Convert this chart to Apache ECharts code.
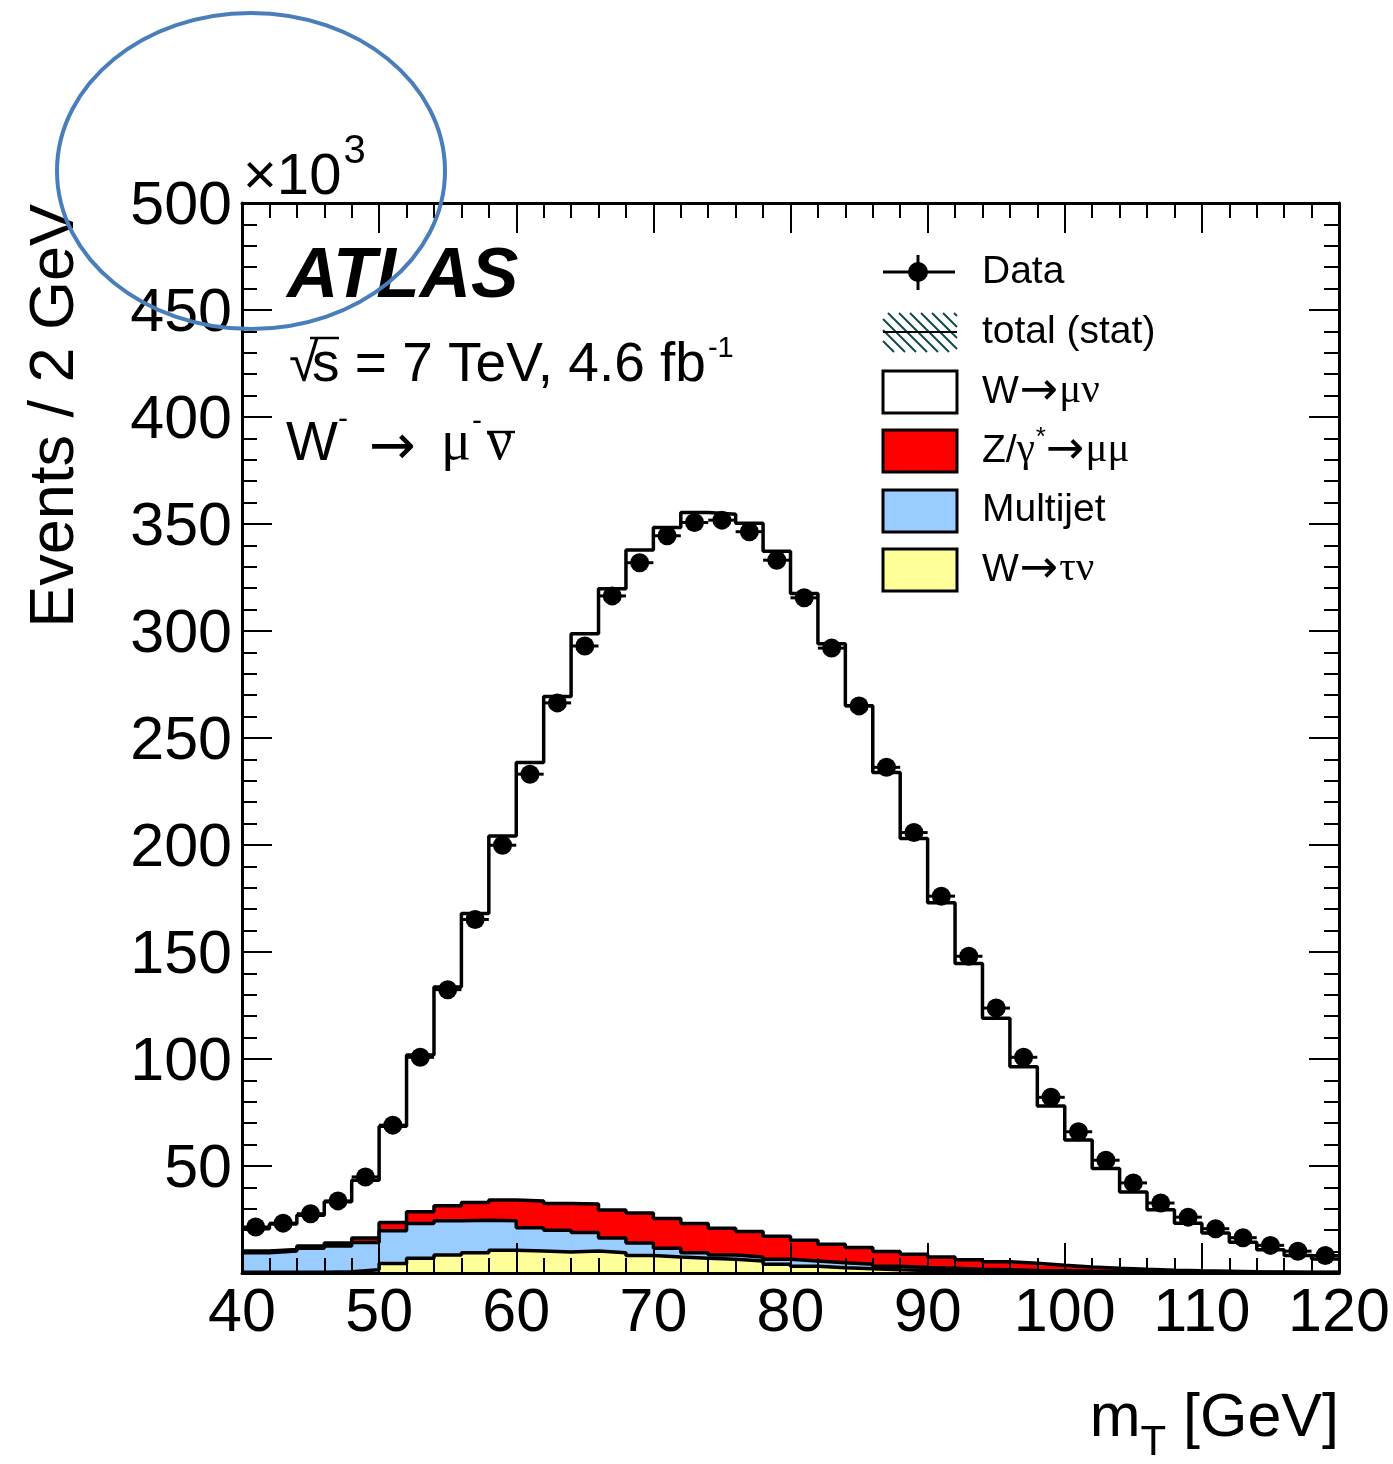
<!DOCTYPE html>
<html>
<head>
<meta charset="utf-8">
<title>W- transverse mass</title>
<script src="https://cdn.jsdelivr.net/npm/echarts@6.0.0/dist/echarts.min.js"></script>
<style>
html, body { margin: 0; padding: 0; background: #fff; }
#chart { width: 1393px; height: 1464px; }
</style>
</head>
<body>
<div id="chart"></div>
<script>
// ---- binning (GeV) ----
const binLowEdges = [40,42,44,46,48,50,52,54,56,58,60,62,64,66,68,70,72,74,76,78,
                     80,82,84,86,88,90,92,94,96,98,100,102,104,106,108,110,112,114,116,118];
const binWidth = 2;
const xMin = 40, xMax = 120, xTickStep = 10;
const yMin = 0, yMax = 500, yTickStep = 50;

// ---- events per 2 GeV bin, in units of 10^3 ----
const dataEvents = [21.5,23.3,27.7,33.7,44.9,69.1,100.8,132.4,165.2,199.9,
                    233.1,266.4,293.0,316.4,331.9,344.5,350.7,351.8,346.4,333.1,
                    315.5,292.0,265.0,236.3,205.8,176.1,148.0,123.8,100.8,82.1,
                    66.0,52.7,42.1,32.7,26.1,20.7,16.5,12.9,10.2,8.2];
const wMuNu      = [10.4,11.9,14.4,19.3,27.0,45.0,73.3,102.2,135.1,170.1,
                    204.9,236.9,266.5,290.4,309.8,322.9,332.3,333.6,330.9,320.1,
                    302.2,280.6,253.2,223.9,194.2,165.5,138.4,113.9,91.9,74.4,
                    59.3,46.6,36.2,28.3,22.3,17.9,13.8,10.4,7.8,6.3];
const zGammaMuMu = [0.8,0.7,1.0,1.4,2.1,3.9,5.5,7.0,8.3,9.7,
                    12.5,12.5,13.3,13.1,14.0,13.9,13.6,12.5,11.9,10.8,
                    9.7,8.6,7.8,6.9,6.2,5.3,4.4,3.7,3.3,2.6,
                    2.0,1.5,1.1,0.8,0.6,0.5,0.3,0.3,0.2,0.1];
const multijet   = [9.2,10.0,11.2,12.0,12.7,15.3,16.2,16.0,15.1,13.8,
                    10.9,10.2,8.6,6.8,5.8,4.1,2.6,2.0,1.9,2.3,
                    2.5,2.3,2.1,1.6,1.4,1.2,1.0,0.9,0.7,0.6,
                    0.5,0.4,0.4,0.3,0.2,0.2,0.2,0.1,0.1,0.1];
const wTauNu     = [0.3,0.3,0.4,0.6,1.5,4.4,6.9,8.4,9.5,10.6,
                    10.3,9.8,10.3,9.5,8.2,7.5,6.9,6.4,5.6,4.1,
                    3.1,2.5,2.0,1.5,1.2,1.0,0.8,0.6,0.5,0.4,
                    0.3,0.3,0.2,0.2,0.2,0.1,0.1,0.1,0.1,0.1];

// ---- colours & fonts ----
const COL_WMU = '#ffffff', COL_Z = '#ff0000', COL_MJ = '#99ccff', COL_WTAU = '#ffff99';
const HATCH = '#134848';
const SANS = '"Liberation Sans", Arial, Helvetica, sans-serif';
const SERIF = '"Liberation Serif", "Times New Roman", serif';
const SYM = '"DejaVu Sans", sans-serif';

// ---- stacked histogram (bottom to top) ----
const stackParts = [
  { values: wTauNu,     color: COL_WTAU },
  { values: multijet,   color: COL_MJ },
  { values: zGammaMuMu, color: COL_Z },
  { values: wMuNu,      color: COL_WMU }
];
const cumulative = [];
stackParts.forEach((part, k) => {
  cumulative.push(part.values.map((v, i) => v + (k ? cumulative[k - 1][i] : 0)));
});

const series = [];
let zOrder = 1;
for (let k = stackParts.length - 1; k >= 0; k--) {
  const color = stackParts[k].color;
  const tops = cumulative[k];
  // filled bins
  series.push({
    type: 'custom',
    z: zOrder++,
    silent: true,
    clip: true,
    data: binLowEdges.map((x, i) => [x, tops[i]]),
    renderItem: function (params, api) {
      const x0 = api.value(0), top = api.value(1);
      const p0 = api.coord([x0, 0]);
      const p1 = api.coord([x0 + binWidth, top]);
      return {
        type: 'rect',
        shape: { x: p0[0], y: p1[1], width: p1[0] - p0[0] + 0.7, height: p0[1] - p1[1] },
        style: { fill: color }
      };
    }
  });
  // black step outline
  series.push({
    type: 'line',
    z: zOrder++,
    silent: true,
    step: 'end',
    symbol: 'none',
    lineStyle: { color: '#000', width: 3.5 },
    data: binLowEdges.map((x, i) => [x, tops[i]]).concat([[xMax, tops[tops.length - 1]]])
  });
}

// data points with horizontal bin-width bars
series.push({
  type: 'custom',
  z: 40,
  silent: true,
  data: binLowEdges.map((x, i) => [x + binWidth / 2, dataEvents[i]]),
  renderItem: function (params, api) {
    const x = api.value(0), y = api.value(1);
    const c = api.coord([x, y]);
    const l = api.coord([x - binWidth / 2, y]);
    const r = api.coord([x + binWidth / 2, y]);
    return {
      type: 'group',
      children: [
        { type: 'line', shape: { x1: l[0], y1: c[1], x2: r[0], y2: c[1] }, style: { stroke: '#000', lineWidth: 3 } },
        { type: 'circle', shape: { cx: c[0], cy: c[1], r: 9.5 }, style: { fill: '#000' } }
      ]
    };
  }
});

// ---- text helpers ----
const measureCtx = document.createElement('canvas').getContext('2d');
function textWidth(str, font) { measureCtx.font = font; return measureCtx.measureText(str).width; }
function fontStr(size, family, extra) { return (extra ? extra + ' ' : '') + size + 'px ' + family; }
// place text by its baseline
function textAt(x, baseline, text, size, family, extra, align) {
  return {
    type: 'text', z: 100, silent: true,
    x: x, y: baseline - 0.35 * size,
    style: { text: text, font: fontStr(size, family, extra), fill: '#000',
             align: align || 'left', verticalAlign: 'middle',
             textAlign: align || 'left', textVerticalAlign: 'middle' }
  };
}
// place text by its vertical centre
function textMid(x, yMid, text, size, family, extra) {
  return {
    type: 'text', z: 100, silent: true, x: x, y: yMid,
    style: { text: text, font: fontStr(size, family, extra), fill: '#000',
             align: 'left', verticalAlign: 'middle', textAlign: 'left', textVerticalAlign: 'middle' }
  };
}
function hline(x1, x2, y, w, color) {
  return { type: 'line', z: 100, silent: true, shape: { x1: x1, y1: y, x2: x2, y2: y }, style: { stroke: color || '#000', lineWidth: w } };
}
function vline(x, y1, y2, w) {
  return { type: 'line', z: 100, silent: true, shape: { x1: x, y1: y1, x2: x, y2: y2 }, style: { stroke: '#000', lineWidth: w } };
}

const g = [];

// axis multiplier
(function () {
  const f = fontStr(58, SANS);
  g.push(textAt(243, 198, '\u00d710', 58, SANS));
  g.push(textAt(243 + textWidth('\u00d710', f) + 2, 166, '3', 40, SANS));
})();

// axis titles
g.push({
  type: 'text', z: 100, silent: true, x: 56, y: 204, rotation: Math.PI / 2,
  style: { text: 'Events / 2 GeV', font: fontStr(63, SANS), fill: '#000',
           align: 'right', verticalAlign: 'middle', textAlign: 'right', textVerticalAlign: 'middle' }
});
(function () {
  const fMain = fontStr(61, SANS), fSub = fontStr(42, SANS);
  const wm = textWidth('m', fMain), wt = textWidth('T', fSub), wg = textWidth(' [GeV]', fMain);
  const x0 = 1339 - (wm + wt + wg);
  g.push(textAt(x0, 1441, 'm', 61, SANS));
  g.push(textAt(x0 + wm, 1458, 'T', 42, SANS));
  g.push(textAt(x0 + wm + wt, 1441, ' [GeV]', 61, SANS));
})();

// experiment label
g.push(textAt(287, 302, 'ATLAS', 71, SANS, 'italic bold'));
(function () {
  g.push(textAt(289, 385, '\u221a', 54, SANS));
  g.push(textAt(312, 385, 's', 55, SANS));
  g.push(hline(310, 339, 338, 2.5));
  const rest = ' = 7 TeV, 4.6 fb';
  const x1 = 312 + textWidth('s', fontStr(55, SANS));
  g.push(textAt(x1, 385, rest, 55, SANS));
  g.push(textAt(x1 + textWidth(rest, fontStr(55, SANS)) + 2, 359, '-1', 29, SANS));
})();
(function () {
  g.push(textAt(286, 464, 'W', 55, SANS));
  g.push(textAt(338, 430, '-', 30, SANS));
  g.push(textMid(369, 449, '\u2192', 56, SYM));
  g.push(textAt(441, 464, '\u03bc', 56, SERIF));
  g.push(textAt(472, 432, '-', 30, SANS));
  g.push(textAt(487, 464, '\u03bd', 56, SERIF));
  g.push(hline(487, 515, 432, 2.5));
})();

// ---- legend ----
const LX0 = 883, LX1 = 957, LTX = 982, LFS = 39;
// Data
g.push(hline(LX0, LX1 - 2, 272, 3));
g.push(vline(918, 255, 290, 3));
g.push({ type: 'circle', z: 101, silent: true, shape: { cx: 918, cy: 272, r: 10 }, style: { fill: '#000' } });
g.push(textAt(LTX, 286, 'Data', LFS, SANS));
// total (stat): hatched box with central line
(function () {
  const y0 = 313, y1 = 352, h = y1 - y0;
  for (let c = -h; c < LX1 - LX0; c += 11) {
    let sx = LX0 + c, sy = y0, ex = LX0 + c + h, ey = y1;
    if (sx < LX0) { sy += LX0 - sx; sx = LX0; }
    if (ex > LX1) { ey -= ex - LX1; ex = LX1; }
    if (ex - sx < 1) continue;
    g.push({ type: 'line', z: 100, silent: true, shape: { x1: sx, y1: sy, x2: ex, y2: ey }, style: { stroke: HATCH, lineWidth: 2 } });
  }
  g.push(hline(LX0, LX1, 332, 2));
})();
g.push(textAt(LTX, 346, 'total (stat)', LFS, SANS));

function legendBox(yTop, color) {
  g.push({ type: 'rect', z: 100, silent: true, shape: { x: LX0, y: yTop, width: LX1 - LX0, height: 42 },
           style: { fill: color, stroke: '#000', lineWidth: 3 } });
}
function processLabel(yMid, pieces) {
  let x = LTX;
  const baseline = yMid + 0.36 * LFS;
  pieces.forEach(p => {
    if (p.arrow) {
      g.push(textMid(x, yMid, '\u2192', 46, SYM));
      x += textWidth('\u2192', fontStr(46, SYM)) + 1;
    } else {
      const size = p.size || LFS;
      g.push(textAt(x, baseline + (p.dy || 0), p.t, size, p.family || SANS));
      x += textWidth(p.t, fontStr(size, p.family || SANS)) + (p.gap || 0);
    }
  });
}
legendBox(371, COL_WMU);
processLabel(392, [{ t: 'W', gap: 1 }, { arrow: true }, { t: '\u03bc\u03bd', size: 41, family: SERIF }]);
legendBox(430, COL_Z);
processLabel(451, [{ t: 'Z/' }, { t: '\u03b3', size: 41, family: SERIF, gap: 1 }, { t: '*', size: 26, dy: -18 }, { arrow: true }, { t: '\u03bc\u03bc', size: 41, family: SERIF }]);
legendBox(490, COL_MJ);
g.push(textAt(LTX, 524, 'Multijet', LFS, SANS));
legendBox(549, COL_WTAU);
processLabel(570, [{ t: 'W', gap: 1 }, { arrow: true }, { t: '\u03c4\u03bd', size: 41, family: SERIF }]);

// highlight ring in the upper-left corner
g.push({ type: 'ellipse', z: 200, silent: true, shape: { cx: 251, cy: 171, rx: 194, ry: 158 },
         style: { fill: 'none', stroke: '#4a7ebb', lineWidth: 4 } });

// ---- axes ----
function axisCommon(extra) {
  return Object.assign({
    type: 'value',
    z: 50,
    axisLine: { show: true, onZero: false, lineStyle: { color: '#000', width: 3 } },
    axisTick: { show: true, inside: true, length: 30, lineStyle: { color: '#000', width: 2 } },
    minorTick: { show: true, splitNumber: 5, length: 15, lineStyle: { color: '#000', width: 2 } },
    splitLine: { show: false },
    minorSplitLine: { show: false }
  }, extra);
}

const option = {
  animation: false,
  backgroundColor: '#ffffff',
  grid: { left: 242, right: 54, top: 203, bottom: 191, containLabel: false, outerBoundsMode: 'none' },
  xAxis: [
    axisCommon({
      position: 'bottom', min: xMin, max: xMax, interval: xTickStep,
      axisLabel: { show: true, color: '#000', fontSize: 61, fontFamily: SANS, margin: 11,
                   showMinLabel: true, showMaxLabel: true, hideOverlap: false }
    }),
    axisCommon({ position: 'top', min: xMin, max: xMax, interval: xTickStep, axisLabel: { show: false } })
  ],
  yAxis: [
    axisCommon({
      position: 'left', min: yMin, max: yMax, interval: yTickStep,
      axisLabel: { show: true, color: '#000', margin: 10,
                   showMinLabel: true, showMaxLabel: true, hideOverlap: false,
                   formatter: v => (v === 0 ? '' : '{n|' + v + '}'),
                   rich: { n: { fontSize: 61, fontFamily: SANS, color: '#000', padding: [8, 0, 0, 0] } } }
    }),
    axisCommon({ position: 'right', min: yMin, max: yMax, interval: yTickStep, axisLabel: { show: false } })
  ],
  series: series,
  graphic: { elements: g }
};

const chart = echarts.init(document.getElementById('chart'), null, { renderer: 'canvas' });
chart.setOption(option);
</script>
</body>
</html>
